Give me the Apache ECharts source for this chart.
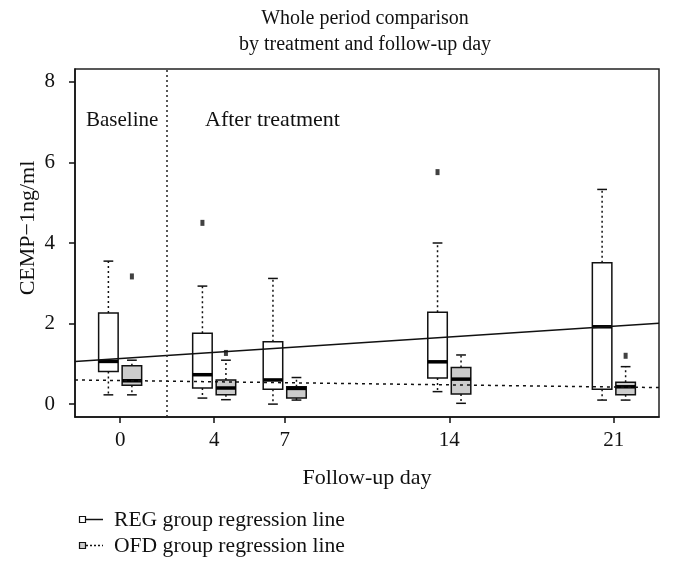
<!DOCTYPE html>
<html>
<head>
<meta charset="utf-8">
<script src="https://cdn.jsdelivr.net/npm/echarts@6/dist/echarts.min.js"></script>
<style>
  html, body { margin: 0; padding: 0; background: #fff; }
  #chart { width: 673px; height: 572px; }
</style>
</head>
<body>
<div id="chart"></div>
<script>
// ---- data ----
const days = [0, 4, 7, 14, 21];
const xTickLabels = ['0', '4', '7', '14', '21'];
const yTickValues = [0, 2, 4, 6, 8];
// [lower whisker, Q1, median, Q3, upper whisker]
const regStats = [
  [0.23, 0.81, 1.06, 2.26, 3.55],
  [0.15, 0.40, 0.73, 1.76, 2.93],
  [0.00, 0.37, 0.60, 1.55, 3.12],
  [0.31, 0.65, 1.05, 2.28, 4.00],
  [0.10, 0.37, 1.92, 3.51, 5.33]
];
const ofdStats = [
  [0.23, 0.47, 0.58, 0.95, 1.09],
  [0.11, 0.23, 0.40, 0.60, 1.09],
  [0.10, 0.15, 0.39, 0.43, 0.66],
  [0.02, 0.25, 0.62, 0.91, 1.22],
  [0.10, 0.23, 0.43, 0.54, 0.93]
];
// [day, value]
const regOutliers = [[4, 4.50], [14, 5.76]];
const ofdOutliers = [[0, 3.17], [4, 1.27], [21, 1.20]];
// regression line end points [day, value]
const regLine = [[-1.92, 1.06], [22.92, 2.01]];
const ofdLine = [[-1.92, 0.60], [22.92, 0.41]];
const dividerDay = 2;
const seriesNames = ['REG group regression line', 'OFD group regression line'];
const yAxisTitle = 'CEMP\u22121ng/ml';

// ---- chart ----
const FONT = '"Liberation Serif", "Times New Roman", serif';
const chart = echarts.init(document.getElementById('chart'), null, { renderer: 'canvas' });

function boxRenderer(offset, fill) {
  return function (params, api) {
    const x = api.value(0) + offset;
    const low = api.coord([x, api.value(1)]);
    const q1 = api.coord([x, api.value(2)]);
    const med = api.coord([x, api.value(3)]);
    const q3 = api.coord([x, api.value(4)]);
    const high = api.coord([x, api.value(5)]);
    const w = api.size([0.83, 0])[0];
    const cw = w / 2;
    const cx = low[0];
    const dotted = { stroke: '#111', lineWidth: 1.5, lineDash: [2, 3] };
    const solid = { stroke: '#111', lineWidth: 1.5 };
    return {
      type: 'group',
      children: [
        { type: 'line', shape: { x1: cx, y1: q3[1], x2: cx, y2: high[1] }, style: dotted },
        { type: 'line', shape: { x1: cx, y1: q1[1], x2: cx, y2: low[1] }, style: dotted },
        { type: 'line', shape: { x1: cx - cw / 2, y1: high[1], x2: cx + cw / 2, y2: high[1] }, style: solid },
        { type: 'line', shape: { x1: cx - cw / 2, y1: low[1], x2: cx + cw / 2, y2: low[1] }, style: solid },
        { type: 'rect', shape: { x: cx - w / 2, y: q3[1], width: w, height: q1[1] - q3[1] },
          style: { fill: fill, stroke: '#111', lineWidth: 1.5 } },
        { type: 'line', shape: { x1: cx - w / 2, y1: med[1], x2: cx + w / 2, y2: med[1] },
          style: { stroke: '#000', lineWidth: 3.5 } }
      ]
    };
  };
}

function boxData(stats) {
  return stats.map((s, i) => [days[i]].concat(s));
}

const option = {
  animation: false,
  backgroundColor: '#fff',
  title: {
    text: 'Whole period comparison\nby treatment and follow-up day',
    left: 360,
    top: 1,
    textAlign: 'center',
    textStyle: { fontFamily: FONT, fontSize: 20, fontWeight: 'normal', color: '#111', lineHeight: 26 }
  },
  grid: {
    left: 75, right: 14, top: 69, bottom: 155,
    show: true, borderColor: '#222', borderWidth: 1.5, backgroundColor: 'transparent'
  },
  xAxis: {
    type: 'value',
    min: -1.92, max: 22.92,
    name: 'Follow-up day',
    nameLocation: 'middle',
    nameGap: 50,
    nameTextStyle: { fontFamily: FONT, fontSize: 22, color: '#111' },
    axisLine: { show: true, onZero: false, lineStyle: { color: '#111', width: 1.5 } },
    axisTick: { show: true, length: 6, customValues: days, lineStyle: { color: '#111', width: 1.5 } },
    axisLabel: {
      customValues: days,
      formatter: v => xTickLabels[days.indexOf(v)],
      fontFamily: FONT, fontSize: 21, color: '#111', margin: 13
    },
    splitLine: { show: false }
  },
  yAxis: {
    type: 'value',
    min: -0.32, max: 8.32,
    axisLine: { show: true, onZero: false, lineStyle: { color: '#111', width: 1.5 } },
    axisTick: { show: true, length: 6, customValues: yTickValues, lineStyle: { color: '#111', width: 1.5 } },
    axisLabel: {
      customValues: yTickValues,
      fontFamily: FONT, fontSize: 21, color: '#111', margin: 20
    },
    splitLine: { show: false }
  },
  series: [
    {
      type: 'custom', name: 'REG boxes',
      renderItem: boxRenderer(-0.5, '#ffffff'),
      data: boxData(regStats),
      encode: { x: 0, y: [1, 2, 3, 4, 5] },
      z: 2,
      markLine: {
        silent: true, symbol: 'none',
        label: { show: false },
        lineStyle: { color: '#222', width: 1.5, type: [2, 3] },
        data: [{ xAxis: dividerDay }]
      }
    },
    {
      type: 'custom', name: 'OFD boxes',
      renderItem: boxRenderer(0.5, '#cccccc'),
      data: boxData(ofdStats),
      encode: { x: 0, y: [1, 2, 3, 4, 5] },
      z: 2
    },
    {
      type: 'scatter', name: 'REG outliers',
      data: regOutliers.map(p => [p[0] - 0.5, p[1]]),
      symbol: 'rect', symbolSize: [4, 6],
      itemStyle: { color: '#111' }, z: 3
    },
    {
      type: 'scatter', name: 'OFD outliers',
      data: ofdOutliers.map(p => [p[0] + 0.5, p[1]]),
      symbol: 'rect', symbolSize: [4, 6],
      itemStyle: { color: '#111' }, z: 3
    },
    {
      type: 'line', name: seriesNames[0],
      data: regLine, showSymbol: false, symbol: 'none',
      lineStyle: { color: '#111', width: 1.5, type: 'solid' }, z: 4
    },
    {
      type: 'line', name: seriesNames[1],
      data: ofdLine, showSymbol: false, symbol: 'none',
      lineStyle: { color: '#111', width: 1.5, type: [3, 4] }, z: 4
    }
  ],
  graphic: [
    { type: 'text', x: 28, y: 228, rotation: Math.PI / 2,
      style: { text: yAxisTitle, font: '22px ' + FONT, fill: '#111', textAlign: 'center', textVerticalAlign: 'middle' } },
    { type: 'text', x: 86, y: 120, style: { text: 'Baseline', font: '21px ' + FONT, fill: '#111', textVerticalAlign: 'middle' } },
    { type: 'text', x: 205, y: 120, style: { text: 'After treatment', font: '22px ' + FONT, fill: '#111', textVerticalAlign: 'middle' } },
    // legend
    { type: 'rect', shape: { x: 79.5, y: 516.5, width: 6, height: 6 }, style: { fill: '#fff', stroke: '#111', lineWidth: 1.2 } },
    { type: 'line', shape: { x1: 86, y1: 519.5, x2: 103, y2: 519.5 }, style: { stroke: '#111', lineWidth: 1.5 } },
    { type: 'text', x: 114, y: 520, style: { text: seriesNames[0], font: '21.6px ' + FONT, fill: '#111', textVerticalAlign: 'middle' } },
    { type: 'rect', shape: { x: 79.5, y: 542.5, width: 6, height: 6 }, style: { fill: '#cccccc', stroke: '#111', lineWidth: 1.2 } },
    { type: 'line', shape: { x1: 86, y1: 545.5, x2: 103, y2: 545.5 }, style: { stroke: '#111', lineWidth: 1.5, lineDash: [2, 2] } },
    { type: 'text', x: 114, y: 546, style: { text: seriesNames[1], font: '21.6px ' + FONT, fill: '#111', textVerticalAlign: 'middle' } }
  ]
};
chart.setOption(option);
</script>
</body>
</html>
